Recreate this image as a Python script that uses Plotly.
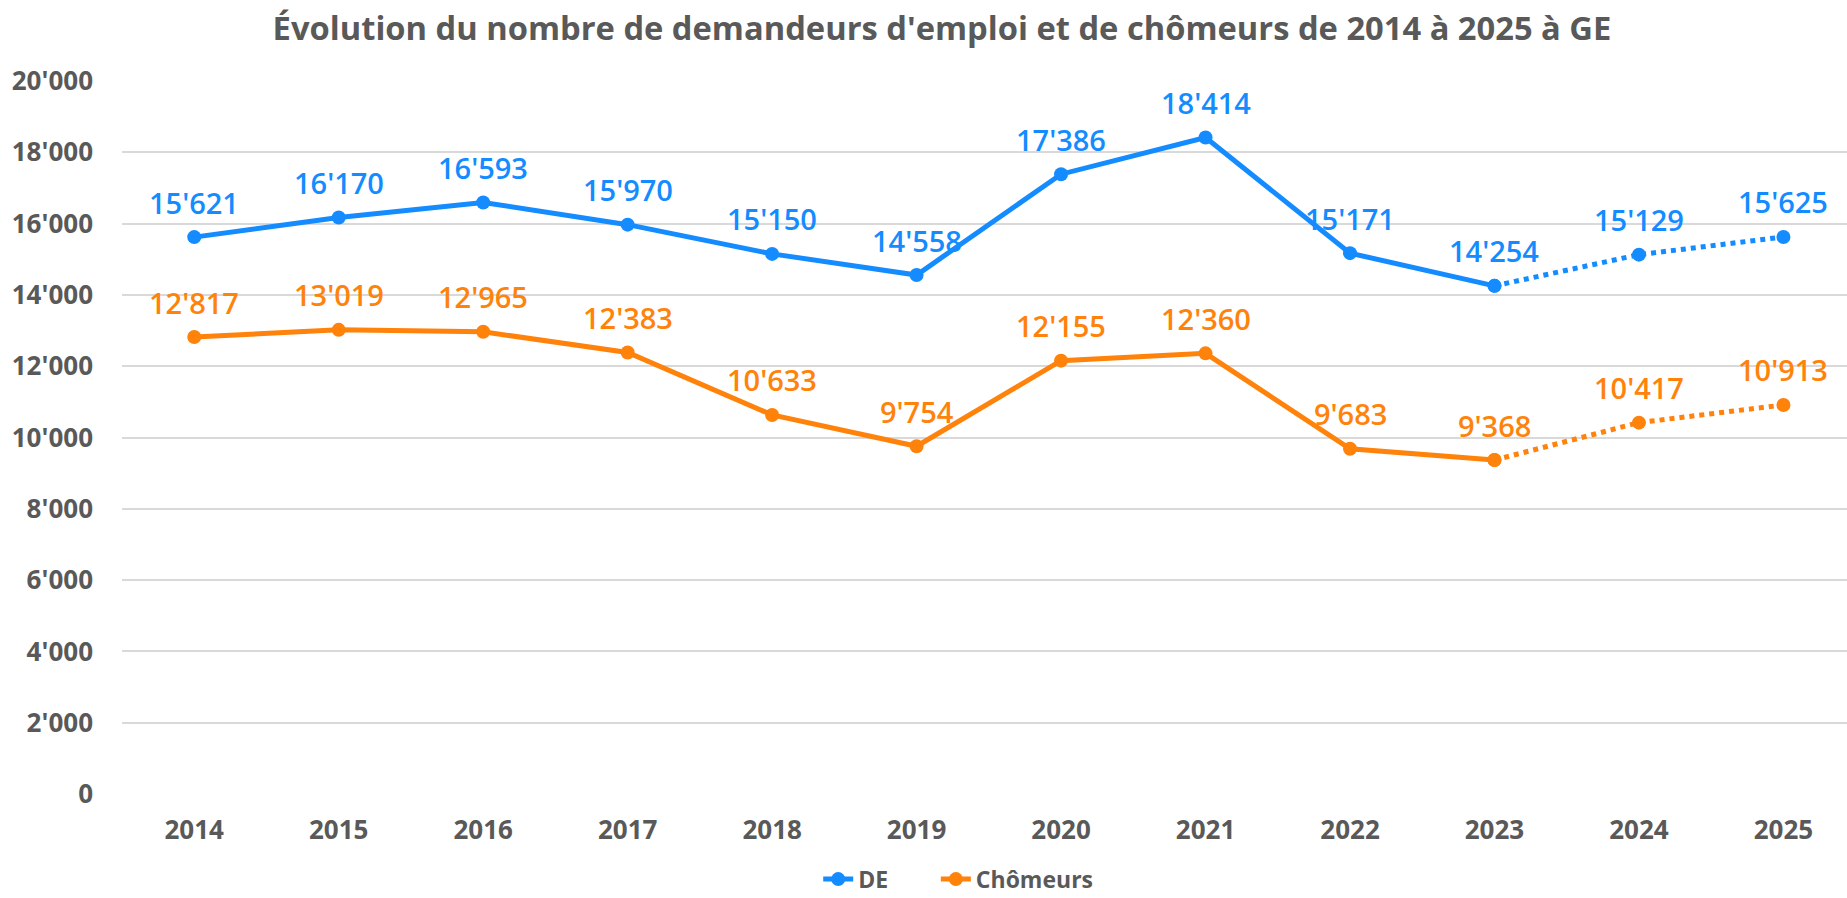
import plotly.graph_objects as go

years = [2014, 2015, 2016, 2017, 2018, 2019, 2020, 2021, 2022, 2023, 2024, 2025]
de_values = [15621, 16170, 16593, 15970, 15150, 14558, 17386, 18414, 15171, 14254, 15129, 15625]
chom_values = [12817, 13019, 12965, 12383, 10633, 9754, 12155, 12360, 9683, 9368, 10417, 10913]
series_names = ["DE", "Chômeurs"]
y_ticks = [0, 2000, 4000, 6000, 8000, 10000, 12000, 14000, 16000, 18000, 20000]
title_text = "Évolution du nombre de demandeurs d'emploi et de chômeurs de 2014 à 2025 à GE"

BLUE = "#148CFF"
ORANGE = "#FF820A"
GRAY = "#595959"
split = years.index(2023)


def fmt(v):
    return f"{v:,}".replace(",", "'")


fig = go.Figure()
annotations = []
for name, vals, col, lg in [(series_names[0], de_values, BLUE, "legend"),
                            (series_names[1], chom_values, ORANGE, "legend2")]:
    fig.add_trace(go.Scatter(
        x=years[:split + 1], y=vals[:split + 1], name=name, mode="lines+markers",
        line=dict(color=col, width=5), marker=dict(color=col, size=14),
        legendgroup=name, showlegend=True, legend=lg, cliponaxis=False,
    ))
    fig.add_trace(go.Scatter(
        x=years[split:], y=vals[split:], name=name, mode="lines+markers",
        line=dict(color=col, width=5, dash="dot"), marker=dict(color=col, size=14),
        legendgroup=name, showlegend=False, legend=lg, cliponaxis=False,
    ))
    for x, v in zip(years, vals):
        annotations.append(dict(
            x=x, y=v, xref="x", yref="y", text=fmt(v), showarrow=False,
            xanchor="center", yanchor="middle", yshift=35,
            font=dict(family="Open Sans", size=29, color=col, weight=600),
        ))

legend_font = dict(family="Open Sans", size=23, color=GRAY, weight="bold")
fig.update_layout(
    width=1847, height=898,
    paper_bgcolor="white", plot_bgcolor="white",
    separators=".'",
    margin=dict(l=122, r=0, t=81, b=104),
    annotations=annotations,
    title=dict(text=title_text, x=0.51, xanchor="center", y=0.968, yanchor="middle", yref="container",
               font=dict(family="Open Sans", size=32.7, color=GRAY, weight="bold")),
    xaxis=dict(range=[2013.5, 2025.44], tickmode="array", tickvals=years, ticktext=[str(y) for y in years],
               showgrid=False, zeroline=False, showline=False, ticks="", automargin=False,
               ticklabelstandoff=18,
               tickfont=dict(family="Open Sans", size=26, color=GRAY, weight="bold")),
    yaxis=dict(range=[0, 20000], tickmode="array", tickvals=y_ticks, tickformat=",",
               showgrid=True, gridcolor="#D9D9D9", gridwidth=1.5, zeroline=False, showline=False,
               ticks="", ticklabelstandoff=28, automargin=False,
               tickfont=dict(family="Open Sans", size=26, color=GRAY, weight="bold")),
    legend=dict(orientation="h", x=0.4036, xanchor="left", y=0.021, yanchor="middle", yref="container",
                font=legend_font),
    legend2=dict(orientation="h", x=0.4718, xanchor="left", y=0.021, yanchor="middle", yref="container",
                 font=legend_font),
)

fig.write_html("out.html", config={"displayModeBar": False},
               post_script="document.body.style.margin='0';document.documentElement.style.overflow='hidden';")
